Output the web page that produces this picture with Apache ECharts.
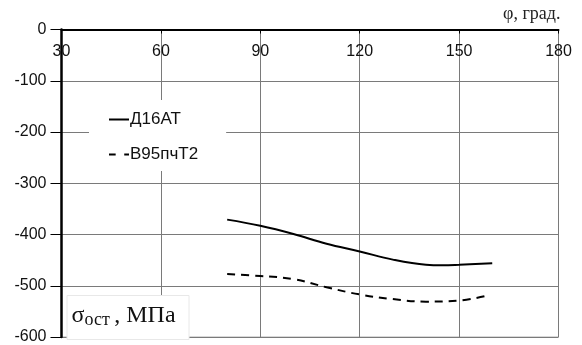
<!DOCTYPE html>
<html><head><meta charset="utf-8">
<script src="https://cdn.jsdelivr.net/npm/echarts@6/dist/echarts.min.js"></script>
<style>html,body{margin:0;padding:0;background:#fff}#c{width:582px;height:345px}</style>
</head><body><div id="c"></div>
<script>
var xTicks = [30, 60, 90, 120, 150, 180];
var yTicks = [0, -100, -200, -300, -400, -500, -600];
var seriesNames = ['Д16АТ', 'B95пчТ2'];
var d16at = [[80,-371],[90,-383],[100,-399],[110,-418],[120,-433],[130,-449],[140,-459],[145,-460],[150,-459],[160,-456]];
var b95 = [[80,-477],[90,-481],[100,-487],[110,-503],[120,-517],[130,-526],[140,-531],[150,-529],[158,-520]];

var chart = echarts.init(document.getElementById('c'), null, {renderer:'canvas'});
chart.setOption({
  animation:false,
  backgroundColor:'#fff',
  grid:{left:61.5, right:23.5, top:29.5, bottom:6, show:true, borderColor:'#b0b0b0', borderWidth:1},
  title:[
    {text:'φ, град.', left:503, top:5, padding:0,
     textStyle:{fontFamily:'Liberation Serif', fontSize:18, fontWeight:'normal', color:'#222'}},
    {text:'{s|σ}{sub|ост }{s|, МПа}', left:66.5, top:295,
     backgroundColor:'#fff', borderColor:'#e8e8e8', borderWidth:1, padding:[8,14,10,5],
     textStyle:{rich:{
       s:{fontFamily:'Liberation Serif', fontSize:24, fontWeight:'normal', color:'#111', verticalAlign:'bottom', height:25},
       sub:{fontFamily:'Liberation Serif', fontSize:18, fontWeight:'normal', color:'#111', verticalAlign:'bottom', height:25, padding:[0,0,-5,0]}
     }}}
  ],
  legend:{
    orient:'vertical', left:89, top:100, itemGap:18,
    itemWidth:20, itemHeight:17, backgroundColor:'#fff', padding:[11,28,8,20],
    textStyle:{fontFamily:'Liberation Sans', fontSize:17, color:'#111', padding:[0,0,0,-4]},
    data:[
      {name:seriesNames[0], icon:'path://M0,0 h20 v2 h-20 z'},
      {name:seriesNames[1], icon:'path://M0,0 h7 v2 h-7 z M16,0 h5 v2 h-5 z'}
    ]
  },
  xAxis:{
    type:'value', position:'top', min:xTicks[0], max:xTicks[xTicks.length-1], interval:30,
    axisLine:{show:true, onZero:false, lineStyle:{color:'#000', width:2}},
    axisTick:{show:true, inside:true, length:4, lineStyle:{color:'#000'}},
    axisLabel:{inside:true, margin:14, fontFamily:'Liberation Sans', fontSize:16, color:'#111'},
    splitLine:{show:true, lineStyle:{color:'#7a7a7a', width:1}}
  },
  yAxis:{
    type:'value', min:yTicks[yTicks.length-1], max:yTicks[0], interval:100,
    axisLine:{show:true, onZero:false, lineStyle:{color:'#000', width:2.5}},
    axisTick:{show:true, length:11, lineStyle:{color:'#000'}},
    axisLabel:{margin:15, fontFamily:'Liberation Sans', fontSize:16, color:'#111'},
    splitLine:{show:true, lineStyle:{color:'#7a7a7a', width:1}}
  },
  series:[
    {name:seriesNames[0], type:'line', data:d16at, smooth:0.4, symbol:'none',
     lineStyle:{color:'#000', width:2}, itemStyle:{color:'#000'}},
    {name:seriesNames[1], type:'line', data:b95, smooth:0.4, symbol:'none',
     lineStyle:{color:'#000', width:2, type:[8,6]}, itemStyle:{color:'#000'}}
  ]
});
</script></body></html>
